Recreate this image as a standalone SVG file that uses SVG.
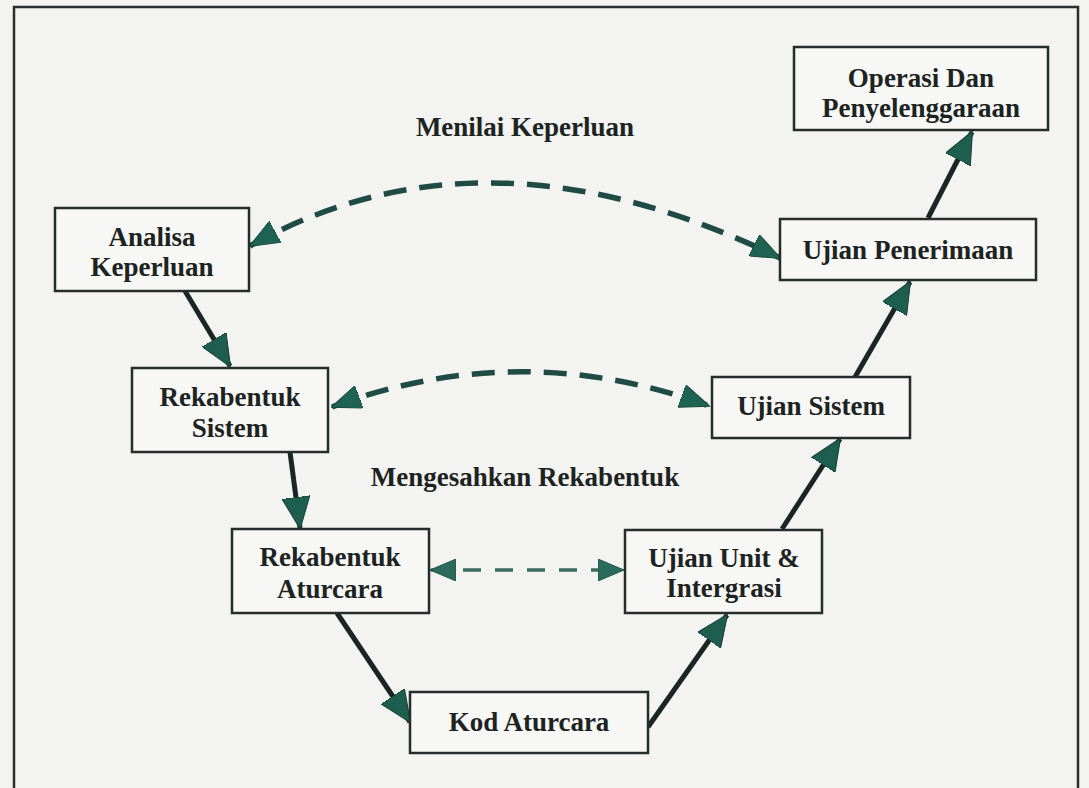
<svg xmlns="http://www.w3.org/2000/svg" width="1089" height="788" viewBox="0 0 1089 788">
  <style>
    .box { fill: #f7f7f5; stroke: #262c2b; stroke-width: 2.5; }
    .lbl { font-family: "Liberation Serif", "Times New Roman", serif; font-weight: bold; font-size: 27px; fill: #1c2321; text-anchor: middle; }
    .flow { fill: none; stroke: #1b2624; stroke-width: 5; }
    .check { fill: none; stroke: #1f4b44; stroke-width: 5.5; stroke-dasharray: 23 13; }
    .check-thin { fill: none; stroke: #3d6a62; stroke-width: 3.5; stroke-dasharray: 18 14; }
  </style>
  <defs>
    <marker id="head" viewBox="0 0 32 28" refX="31" refY="14" markerWidth="32" markerHeight="28" markerUnits="userSpaceOnUse" orient="auto">
      <path d="M0,0 L32,14 L0,28 Z" fill="#1d5e4f" stroke="#163d35" stroke-width="1"/>
    </marker>
    <marker id="dhead" viewBox="0 0 30 24" refX="29" refY="12" markerWidth="30" markerHeight="24" markerUnits="userSpaceOnUse" orient="auto-start-reverse">
      <path d="M0,0 L30,12 L0,24 Z" fill="#1f6452" stroke="#184a3f" stroke-width="1"/>
    </marker>
    <marker id="shead" viewBox="0 0 26 22" refX="25" refY="11" markerWidth="26" markerHeight="22" markerUnits="userSpaceOnUse" orient="auto-start-reverse">
      <path d="M0,0 L26,11 L0,22 Z" fill="#2c6b5c" stroke="#21554a" stroke-width="1"/>
    </marker>
  </defs>

  <!-- page -->
  <rect x="0" y="0" width="1089" height="788" fill="#f3f3f1"/>
  <path d="M14,788 L14,7 L1078,7 L1078,788" fill="none" stroke="#2b2f2f" stroke-width="2.5"/>

  <!-- connectors -->
  <g id="connectors">
    <line class="flow" x1="185" y1="291" x2="230" y2="366" marker-end="url(#head)"/>
    <line class="flow" x1="290" y1="452" x2="300" y2="528" marker-end="url(#head)"/>
    <line class="flow" x1="337" y1="613" x2="410" y2="722" marker-end="url(#head)"/>
    <line class="flow" x1="648" y1="727" x2="727" y2="615" marker-end="url(#head)"/>
    <line class="flow" x1="782" y1="529" x2="840" y2="439" marker-end="url(#head)"/>
    <line class="flow" x1="855" y1="377" x2="910" y2="282" marker-end="url(#head)"/>
    <line class="flow" x1="928" y1="218" x2="972" y2="132" marker-end="url(#head)"/>

    <path class="check" d="M250,246 Q485,114 780,258" marker-start="url(#dhead)" marker-end="url(#dhead)"/>
    <path class="check" d="M332,407 Q520,337 709,406" marker-start="url(#dhead)" marker-end="url(#dhead)"/>
    <line class="check-thin" x1="431" y1="570" x2="623" y2="570" marker-start="url(#shead)" marker-end="url(#shead)"/>
  </g>

  <!-- labels on the verification links -->
  <text class="lbl" x="525" y="136">Menilai Keperluan</text>
  <text class="lbl" x="525" y="486">Mengesahkan Rekabentuk</text>

  <g id="operasi">
    <rect class="box" x="794" y="47" width="254" height="83"/>
    <text class="lbl" x="921" y="87">Operasi Dan</text>
    <text class="lbl" x="921" y="117">Penyelenggaraan</text>
  </g>
  <g id="analisa">
    <rect class="box" x="55" y="208" width="194" height="83"/>
    <text class="lbl" x="152" y="246">Analisa</text>
    <text class="lbl" x="152" y="276">Keperluan</text>
  </g>
  <g id="ujian-penerimaan">
    <rect class="box" x="780" y="219" width="256" height="61"/>
    <text class="lbl" x="908" y="259">Ujian Penerimaan</text>
  </g>
  <g id="rekabentuk-sistem">
    <rect class="box" x="132" y="368" width="196" height="84"/>
    <text class="lbl" x="230" y="406">Rekabentuk</text>
    <text class="lbl" x="230" y="437">Sistem</text>
  </g>
  <g id="ujian-sistem">
    <rect class="box" x="712" y="377" width="198" height="61"/>
    <text class="lbl" x="811" y="415">Ujian Sistem</text>
  </g>
  <g id="rekabentuk-aturcara">
    <rect class="box" x="232" y="529" width="197" height="84"/>
    <text class="lbl" x="330" y="566">Rekabentuk</text>
    <text class="lbl" x="330" y="598">Aturcara</text>
  </g>
  <g id="ujian-unit">
    <rect class="box" x="625" y="530" width="197" height="83"/>
    <text class="lbl" x="724" y="567">Ujian Unit &amp;</text>
    <text class="lbl" x="724" y="597">Intergrasi</text>
  </g>
  <g id="kod-aturcara">
    <rect class="box" x="410" y="692" width="238" height="61"/>
    <text class="lbl" x="529" y="731">Kod Aturcara</text>
  </g>
</svg>
